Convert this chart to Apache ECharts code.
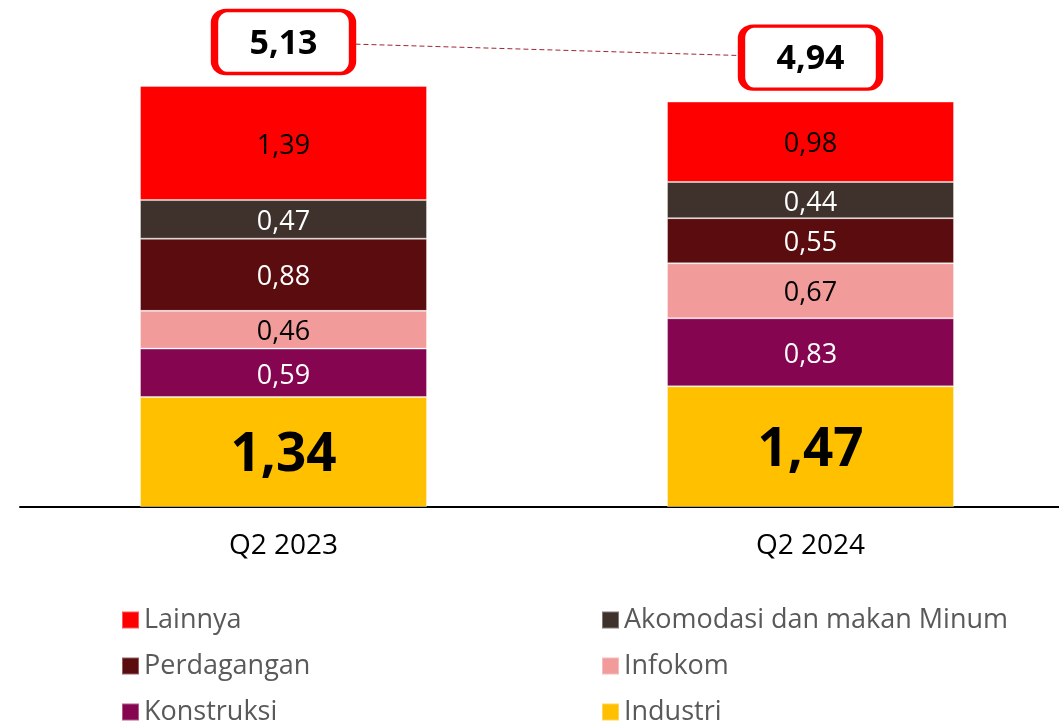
<!DOCTYPE html>
<html><head><meta charset="utf-8">
<script src="https://cdn.jsdelivr.net/npm/echarts@6/dist/echarts.min.js"></script>
<style>html,body{margin:0;padding:0;background:#fff;overflow:hidden;width:1059px;height:722px}#c{width:1074px;height:722px}</style>
</head><body><div id="c"></div>
<script>
var categories = ['Q2 2023', 'Q2 2024'];
var industri = [1.34, 1.47];
var konstruksi = [0.59, 0.83];
var infokom = [0.46, 0.67];
var perdagangan = [0.88, 0.55];
var akomodasi = [0.47, 0.44];
var lainnya = [1.39, 0.98];
var totals = [5.13, 4.94];

var FONT = 'Open Sans';
function fmt(v){ return Number(v).toFixed(2).replace('.', ','); }

function seg(name, data, color, labelColor, big){
  return {
    name: name, type: 'bar', stack: 'total', data: data, barWidth: 287,
    itemStyle: { color: color, borderColor: 'rgba(255,255,255,0.35)', borderWidth: 1 },
    label: {
      show: true, position: 'inside', color: labelColor, offset: [0, big ? 4 : 3],
      fontFamily: FONT, fontSize: big ? 53 : 27, fontWeight: big ? 'bold' : 'normal',
      formatter: function(p){ return fmt(p.value); }
    }
  };
}

var boxPath = 'path://M12,0 H126 A12,12 0 0 1 138,12 V51 A12,12 0 0 1 126,63 H12 A12,12 0 0 1 0,51 V12 A12,12 0 0 1 12,0 Z';

var chart = echarts.init(document.getElementById('c'));
chart.setOption({
  animation: false,
  backgroundColor: '#fff',
  grid: { left: 20, right: 0, top: 14.6, height: 492.4 },
  xAxis: {
    type: 'category', data: categories,
    axisLine: { lineStyle: { color: '#000', width: 2 } },
    axisTick: { show: false },
    axisLabel: { color: '#000', fontFamily: FONT, fontSize: 28, margin: 25 }
  },
  yAxis: [
    { type: 'value', min: 0, max: 6, show: false, splitLine: { show: false } },
    { type: 'value', min: -0.536, max: 5.464, show: false, splitLine: { show: false } }
  ],
  legend: [
    {
      orient: 'vertical', left: 116, top: 600, height: 150, itemWidth: 17, itemHeight: 17, itemGap: 16,
      icon: 'rect',
      textStyle: { color: '#595959', fontFamily: FONT, fontSize: 27, lineHeight: 30 },
      data: ['Lainnya', 'Perdagangan', 'Konstruksi']
    },
    {
      orient: 'vertical', left: 596, top: 600, height: 150, itemWidth: 17, itemHeight: 17, itemGap: 16,
      icon: 'rect',
      textStyle: { color: '#595959', fontFamily: FONT, fontSize: 27, lineHeight: 30 },
      data: ['Akomodasi dan makan Minum', 'Infokom', 'Industri']
    }
  ],
  series: [
    seg('Industri', industri, '#FFC000', '#000', true),
    seg('Konstruksi', konstruksi, '#850550', '#fff'),
    seg('Infokom', infokom, '#F19B9B', '#000'),
    seg('Perdagangan', perdagangan, '#5A0C0F', '#fff'),
    seg('Akomodasi dan makan Minum', akomodasi, '#3F312B', '#fff'),
    seg('Lainnya', lainnya, '#FF0000', '#000'),
    {
      name: 'Total', type: 'line', yAxisIndex: 1, data: totals,
      symbol: boxPath, symbolSize: [138, 63],
      itemStyle: { color: '#fff', borderColor: '#FF0000', borderWidth: 5 },
      lineStyle: { color: '#A02830', width: 1, type: [5, 3] },
      label: {
        show: true, position: 'inside', color: '#000', fontFamily: FONT, offset: [0, 2],
        fontSize: 34, fontWeight: 'bold',
        formatter: function(p){ return fmt(p.value); }
      },
      z: 10
    }
  ]
});
</script>
</body></html>
